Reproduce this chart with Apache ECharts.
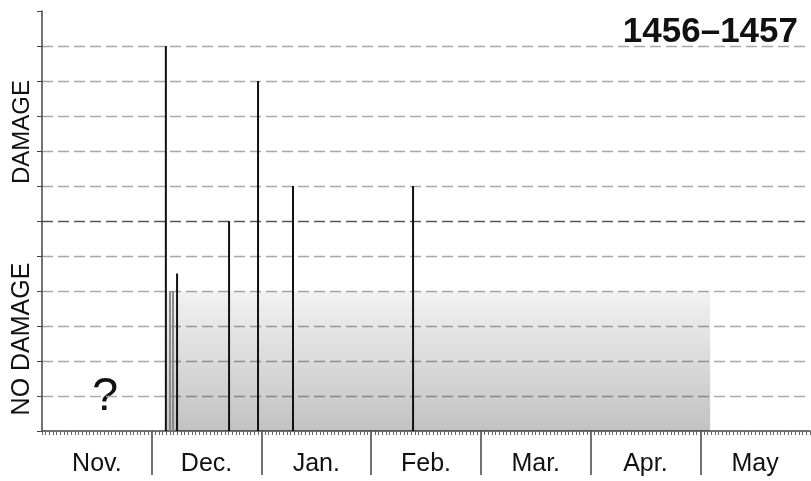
<!DOCTYPE html>
<html>
<head>
<meta charset="utf-8">
<script src="https://cdn.jsdelivr.net/npm/echarts@6/dist/echarts.min.js"></script>
<style>html,body{margin:0;padding:0;background:#fff}#c{width:811px;height:481px}</style>
</head>
<body>
<div id="c"></div>
<script>
// Month labels (each month = 1 unit on the x axis)
const months = ['Nov.', 'Dec.', 'Jan.', 'Feb.', 'Mar.', 'Apr.', 'May'];
// Damage events: position in months since Nov 1, severity
const eventX = [1.129, 1.231, 1.705, 1.969, 2.288, 3.382];
const eventY = [11, 4.5, 6, 10, 7, 7];
// Thin grey marks at start of period
const greyX = [1.167, 1.194];
const greyY = [4, 4];
// Shaded period (no damage baseline)
const periodX = [1.14, 6.09];
const periodY = [4, 4];
const title = '1456–1457';

const FONT = '"Liberation Sans", Arial, sans-serif';
const chart = echarts.init(document.getElementById('c'));
const gridColors = ['transparent','#a8a8a8','#a8a8a8','#a8a8a8','#a8a8a8','#a8a8a8','#555','#a8a8a8','#a8a8a8','#a8a8a8','#a8a8a8','#a8a8a8','transparent'];

chart.setOption({
  animation: false,
  grid: {left: 42, right: 1, top: 11, bottom: 50},
  xAxis: [{
    type: 'value', min: 0, max: 7, interval: 1, position: 'bottom',
    axisLine: {show: true, lineStyle: {color: '#444', width: 1.5}},
    axisTick: {show: true, customValues: [1,2,3,4,5,6], length: 44, lineStyle: {color: '#444', width: 1.5}},
    axisLabel: {show: true, customValues: [0.5,1.5,2.5,3.5,4.5,5.5,6.5], margin: 21,
      formatter: v => months[Math.floor(v)], fontSize: 25, color: '#111', fontFamily: FONT},
    splitLine: {show: false}
  }, {
    type: 'value', min: 0, max: 210, interval: 1, position: 'bottom',
    axisLine: {show: false},
    axisTick: {show: true, length: 4, lineStyle: {color: '#666', width: 1}},
    axisLabel: {show: false},
    splitLine: {show: false}
  }],
  yAxis: {
    type: 'value', min: 0, max: 12, interval: 1,
    axisLine: {show: true, lineStyle: {color: '#444', width: 1.5}},
    axisTick: {show: true, length: 5, lineStyle: {color: '#444'}},
    axisLabel: {show: false},
    splitLine: {show: true, lineStyle: {color: gridColors, type: [11, 5], width: 1.4}}
  },
  graphic: [
    {type: 'text', right: 13, top: 15, style: {text: title, font: 'bold 35px ' + FONT, fill: '#111'}},
    {type: 'text', x: 22, y: 132, rotation: Math.PI / 2, style: {text: 'DAMAGE', font: '24px ' + FONT, fill: '#111', align: 'center', verticalAlign: 'middle'}},
    {type: 'text', x: 22, y: 339, rotation: Math.PI / 2, style: {text: 'NO DAMAGE', font: '25px ' + FONT, fill: '#111', align: 'center', verticalAlign: 'middle'}},
    {type: 'text', x: 105, y: 397, style: {text: '?', font: '47px ' + FONT, fill: '#111', align: 'center', verticalAlign: 'middle'}}
  ],
  series: [{
    type: 'line', xAxisIndex: 0, data: periodX.map((x, i) => [x, periodY[i]]),
    showSymbol: false, lineStyle: {width: 0, opacity: 0}, z: 1,
    areaStyle: {opacity: 1, color: new echarts.graphic.LinearGradient(0, 0, 0, 1, [
      {offset: 0, color: 'rgba(0,0,0,0.05)'}, {offset: 1, color: 'rgba(0,0,0,0.24)'}])}
  }, {
    type: 'bar', xAxisIndex: 0, data: greyX.map((x, i) => [x, greyY[i]]),
    barWidth: 2, itemStyle: {color: '#888'}, z: 3
  }, {
    type: 'bar', xAxisIndex: 0, data: eventX.map((x, i) => [x, eventY[i]]),
    barWidth: 2, barGap: '-100%', itemStyle: {color: '#111'}, z: 4
  }]
});
</script>
</body>
</html>
